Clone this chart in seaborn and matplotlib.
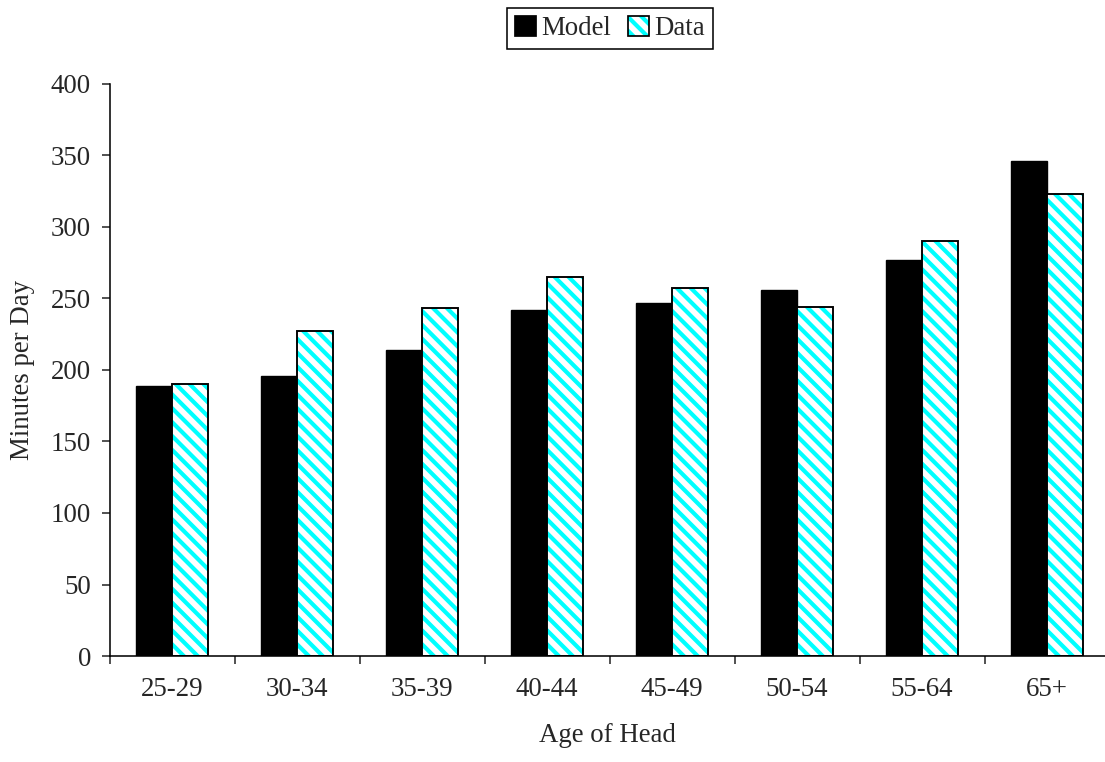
import pandas as pd
import numpy as np
import matplotlib.pyplot as plt
import seaborn as sns
from matplotlib.patches import Patch, Rectangle

ages = ["25-29", "30-34", "35-39", "40-44", "45-49", "50-54", "55-64", "65+"]
model = [189, 196, 214, 242, 247, 256, 277, 346]
data = [190, 227, 243, 265, 257, 244, 290, 323]

df = pd.DataFrame({
    "Age": ages * 2,
    "Minutes": model + data,
    "Series": ["Model"] * len(ages) + ["Data"] * len(ages),
})

sns.set_style("white")
plt.rcParams['font.family'] = ['Liberation Serif', 'DejaVu Serif']
plt.rcParams['hatch.linewidth'] = 2.4
fs = 15.5
cyan = "#00FFFF"
hatch = "\\\\\\"  # three backslashes

fig = plt.figure(figsize=(8.84, 6.096), dpi=125)
ax = fig.add_axes([0.0991, 0.1391, 0.9009, 0.7507])

sns.barplot(data=df, x="Age", y="Minutes", hue="Series", order=ages,
            hue_order=["Model", "Data"], palette={"Model": "black", "Data": "white"},
            width=0.58, gap=0, edgecolor="black", linewidth=0.8, legend=False, ax=ax)

# second container = Data bars: cyan hatch, then a black outline on top
for p in ax.containers[1]:
    p.set_hatch(hatch)
    p.set_edgecolor(cyan)
    p.set_linewidth(0)
    ax.add_patch(Rectangle(p.get_xy(), p.get_width(), p.get_height(),
                           fill=False, edgecolor="black", linewidth=1.1, zorder=3))

ax.set_ylim(0, 400)
ax.set_yticks(range(0, 401, 50))
ax.set_xlim(-0.5, 7.464)
ax.set_xticks(np.arange(-0.5, 7, 1.0), minor=True)
ax.tick_params(axis="x", which="major", length=0, pad=12, labelsize=fs)
ax.tick_params(axis="x", which="minor", length=4.6, width=0.9, direction="out", bottom=True)
ax.tick_params(axis="y", length=4.6, width=0.9, direction="out", left=True, pad=6, labelsize=fs)

for s in ["top", "right"]:
    ax.spines[s].set_visible(False)
for s in ["left", "bottom"]:
    ax.spines[s].set_color("black")
    ax.spines[s].set_linewidth(0.9)

ax.set_xlabel("Age of Head", fontsize=fs, labelpad=12)
ax.set_ylabel("Minutes per Day", fontsize=fs, labelpad=9)

h_model = Patch(facecolor="black", edgecolor="black")
h_hatch = Patch(facecolor="white", edgecolor=cyan, hatch=hatch, linewidth=0)
h_out = Patch(facecolor="none", edgecolor="black", linewidth=1.0)
leg = fig.legend([h_model, (h_hatch, h_out)], ["Model", "Data"],
                 loc="upper center", bbox_to_anchor=(0.552, 0.99), ncol=2,
                 fontsize=fs, frameon=True, fancybox=False, framealpha=1,
                 edgecolor="black", handlelength=0.8, handleheight=0.8,
                 handletextpad=0.2, columnspacing=0.6, borderpad=0.3,
                 borderaxespad=0)
leg.get_frame().set_linewidth(0.9)

fig.savefig("out.png", dpi=125)
